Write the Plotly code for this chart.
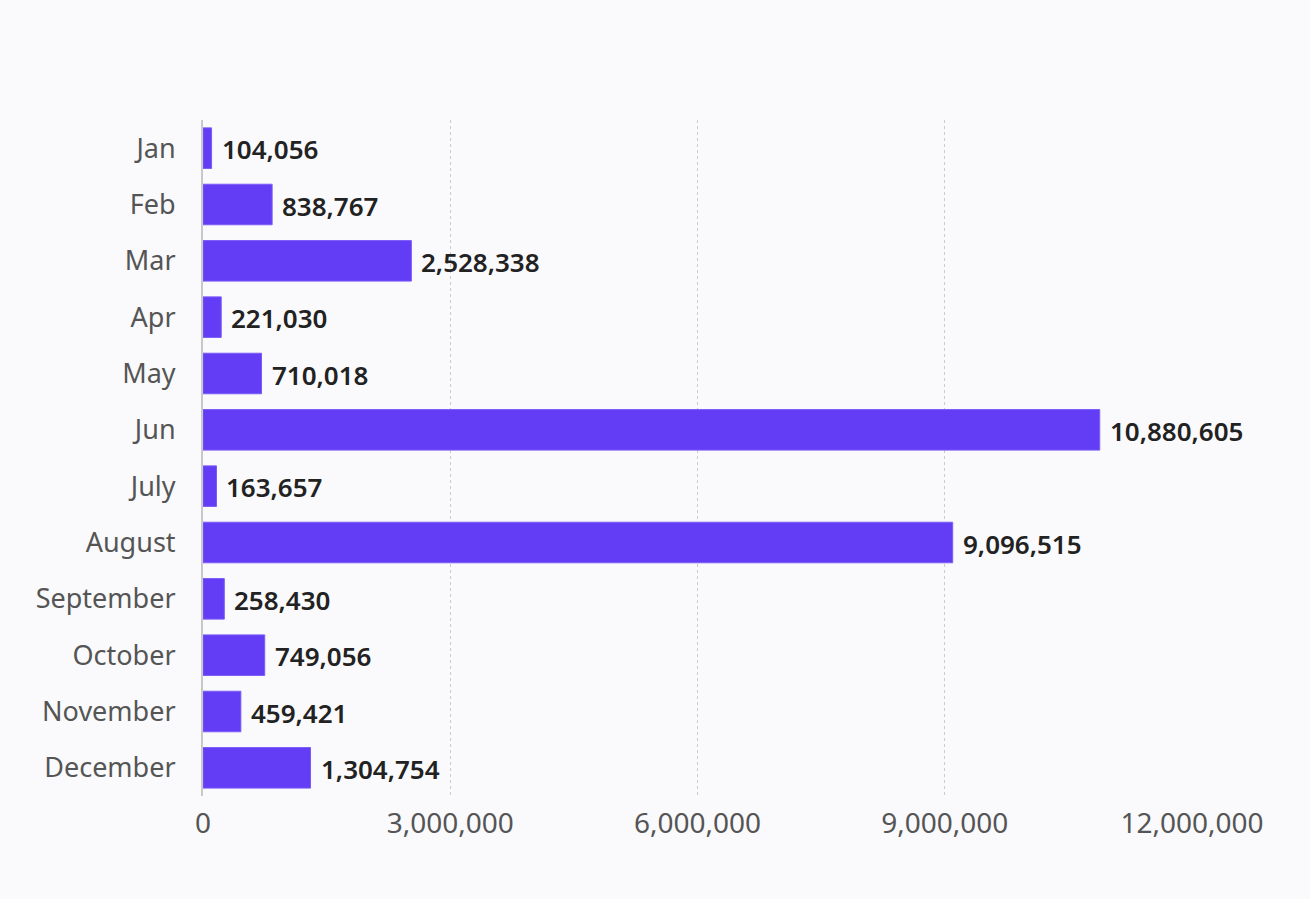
import plotly.graph_objects as go

months = ["Jan", "Feb", "Mar", "Apr", "May", "Jun", "July", "August",
          "September", "October", "November", "December"]
values = [104056, 838767, 2528338, 221030, 710018, 10880605, 163657,
          9096515, 258430, 749056, 459421, 1304754]
tick_vals = [0, 3000000, 6000000, 9000000, 12000000]
tick_text = ["0", "3,000,000", "6,000,000", "9,000,000", "12,000,000"]

FONT = "Noto Sans"
BG = "#fafafc"

fig = go.Figure()
fig.add_trace(go.Bar(
    x=values, y=months, orientation="h",
    marker=dict(color="#633cf6", line=dict(color="#7b5cf8", width=1)),
    hoverinfo="x+y",
))

for m, v in zip(months, values):
    fig.add_annotation(x=v, y=m, text=f"{v:,}", showarrow=False,
                       xanchor="left", yanchor="middle", xshift=8, yshift=-1,
                       font=dict(family=FONT, size=26, color="#222222", weight=600))

fig.update_layout(
    width=1310, height=899,
    paper_bgcolor=BG, plot_bgcolor=BG,
    margin=dict(l=203, r=118, t=120, b=103),
    bargap=0.28,
    showlegend=False,
    font=dict(family=FONT, size=26, color="#555555"),
)
fig.update_xaxes(
    range=[0, 12000000], tickvals=tick_vals, ticktext=tick_text,
    showgrid=True, gridcolor="#cccccc", griddash="dot", gridwidth=1,
    zeroline=False, showline=False,
    ticks="", ticklabelstandoff=8,
    tickfont=dict(family=FONT, size=28, color="#555555"),
)
fig.update_yaxes(
    categoryorder="array", categoryarray=months, autorange="reversed",
    showgrid=False, zeroline=False,
    showline=True, linecolor="#c8c8c8", linewidth=2,
    ticks="", ticklabelstandoff=20,
    tickfont=dict(family=FONT, size=27, color="#555555"),
)

fig.write_html(
    "out.html",
    config={"displayModeBar": False},
    post_script="document.body.style.margin='0';document.body.style.background='#fafafc';",
)
